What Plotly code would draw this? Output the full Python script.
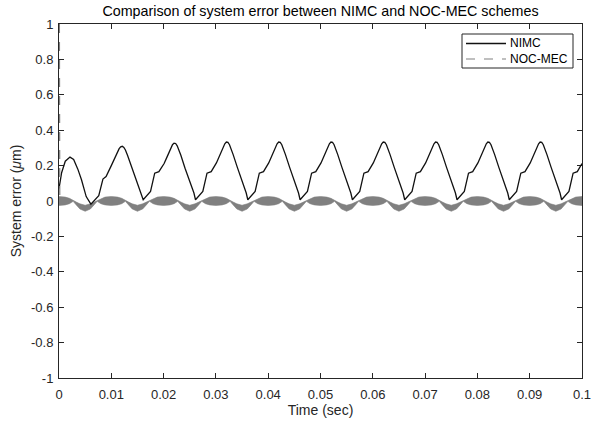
import plotly.graph_objects as go

# ---------------- data ----------------
# NIMC system error (µm) vs time (s)
nimc_t = [
    0.0000, 0.0005, 0.0012, 0.0021, 0.0028, 0.0036, 0.0043, 0.0052, 0.0061,
    0.0076, 0.0084, 0.0090, 0.0100, 0.0106, 0.0111, 0.0115, 0.0118, 0.0121, 0.0124, 0.0127, 0.0131, 0.0141, 0.0151, 0.0158, 0.0161,
    0.0175, 0.0183, 0.0191, 0.0201, 0.0206, 0.0211, 0.0214, 0.0217, 0.0220, 0.0223, 0.0226, 0.0229, 0.0233, 0.0241, 0.0251, 0.0258, 0.0261,
    0.0275, 0.0283, 0.0291, 0.0301, 0.0306, 0.0311, 0.0314, 0.0317, 0.0320, 0.0323, 0.0326, 0.0329, 0.0333, 0.0341, 0.0351, 0.0358, 0.0361,
    0.0375, 0.0383, 0.0391, 0.0401, 0.0406, 0.0411, 0.0414, 0.0417, 0.0420, 0.0423, 0.0426, 0.0429, 0.0433, 0.0441, 0.0451, 0.0458, 0.0461,
    0.0475, 0.0483, 0.0491, 0.0501, 0.0506, 0.0511, 0.0514, 0.0517, 0.0520, 0.0523, 0.0526, 0.0529, 0.0533, 0.0541, 0.0551, 0.0558, 0.0561,
    0.0575, 0.0583, 0.0591, 0.0601, 0.0606, 0.0611, 0.0614, 0.0617, 0.0620, 0.0623, 0.0626, 0.0629, 0.0633, 0.0641, 0.0651, 0.0658, 0.0661,
    0.0675, 0.0683, 0.0691, 0.0701, 0.0706, 0.0711, 0.0714, 0.0717, 0.0720, 0.0723, 0.0726, 0.0729, 0.0733, 0.0741, 0.0751, 0.0758, 0.0761,
    0.0775, 0.0783, 0.0791, 0.0801, 0.0806, 0.0811, 0.0814, 0.0817, 0.0820, 0.0823, 0.0826, 0.0829, 0.0833, 0.0841, 0.0851, 0.0858, 0.0861,
    0.0875, 0.0883, 0.0891, 0.0901, 0.0906, 0.0911, 0.0914, 0.0917, 0.0920, 0.0923, 0.0926, 0.0929, 0.0933, 0.0941, 0.0951, 0.0958, 0.0961,
    0.0975, 0.0983, 0.0991, 0.1000,
]
nimc_y = [
    0.070, 0.160, 0.225, 0.248, 0.235, 0.180, 0.120, 0.025, -0.018,
    0.030, 0.124, 0.138, 0.200, 0.240, 0.275, 0.296, 0.306, 0.309, 0.303, 0.288, 0.258, 0.178, 0.095, 0.040, 0.007,
    0.054, 0.157, 0.166, 0.212, 0.245, 0.278, 0.300, 0.318, 0.327, 0.325, 0.312, 0.290, 0.258, 0.185, 0.104, 0.045, 0.007,
    0.054, 0.157, 0.166, 0.215, 0.250, 0.283, 0.305, 0.323, 0.333, 0.331, 0.318, 0.296, 0.262, 0.190, 0.105, 0.045, 0.007,
    0.054, 0.157, 0.166, 0.215, 0.250, 0.283, 0.305, 0.323, 0.333, 0.331, 0.318, 0.296, 0.262, 0.190, 0.105, 0.045, 0.007,
    0.054, 0.157, 0.166, 0.215, 0.250, 0.283, 0.305, 0.323, 0.333, 0.331, 0.318, 0.296, 0.262, 0.190, 0.105, 0.045, 0.007,
    0.054, 0.157, 0.166, 0.215, 0.250, 0.283, 0.305, 0.323, 0.333, 0.331, 0.318, 0.296, 0.262, 0.190, 0.105, 0.045, 0.007,
    0.054, 0.157, 0.166, 0.215, 0.250, 0.283, 0.305, 0.323, 0.333, 0.331, 0.318, 0.296, 0.262, 0.190, 0.105, 0.045, 0.007,
    0.054, 0.157, 0.166, 0.215, 0.250, 0.283, 0.305, 0.323, 0.333, 0.331, 0.318, 0.296, 0.262, 0.190, 0.105, 0.045, 0.007,
    0.054, 0.157, 0.166, 0.215, 0.250, 0.283, 0.305, 0.323, 0.333, 0.331, 0.318, 0.296, 0.262, 0.190, 0.105, 0.045, 0.007,
    0.054, 0.157, 0.166, 0.212,
]

# NOC-MEC: initial transient, then a fast oscillation; its envelope per cycle
noc_spike_t = [0.00008, 0.00015]
noc_spike_y = [1.0, 0.02]
noc_cycle_centers = [0.00, 0.01, 0.02, 0.03, 0.04, 0.05, 0.06, 0.07, 0.08, 0.09, 0.10]
noc_env_tau = [-0.0027, -0.0020, -0.0012, 0.0000, 0.0012, 0.0020, 0.0027,
               0.0033, 0.0040, 0.0050, 0.0060, 0.0067]
noc_env_hi = [0.002, 0.015, 0.022, 0.025, 0.022, 0.015, 0.002,
              -0.006, -0.016, -0.024, -0.016, -0.006]
noc_env_lo = [-0.002, -0.015, -0.022, -0.025, -0.022, -0.015, -0.002,
              -0.022, -0.045, -0.058, -0.045, -0.022]

x_ticks = [0, 0.01, 0.02, 0.03, 0.04, 0.05, 0.06, 0.07, 0.08, 0.09, 0.1]
x_ticklabels = ["0", "0.01", "0.02", "0.03", "0.04", "0.05", "0.06", "0.07", "0.08", "0.09", "0.1"]
y_ticks = [-1, -0.8, -0.6, -0.4, -0.2, 0, 0.2, 0.4, 0.6, 0.8, 1]
y_ticklabels = ["-1", "-0.8", "-0.6", "-0.4", "-0.2", "0", "0.2", "0.4", "0.6", "0.8", "1"]
legend_names = ["NIMC", "NOC-MEC"]

# ---------------- build envelope band ----------------
pts = []
for c in noc_cycle_centers:
    for tau, hi, lo in zip(noc_env_tau, noc_env_hi, noc_env_lo):
        t = c + tau
        if 0.0 <= t <= 0.1:
            pts.append((t, hi, lo))
pts.sort()
band_t = [p[0] for p in pts]
band_hi = [p[1] for p in pts]
band_lo = [p[2] for p in pts]

GRAY = "#808080"
BLACK = "#111111"
AX = "#262626"
FONT = "Liberation Sans, Arial, sans-serif"

W, H = 596, 421
ML, MR, MT, MB = 59, 14, 24, 43
PW, PH = W - ML - MR, H - MT - MB


def px(xp):
    return (xp - ML) / PW


def py(yp):
    return (H - MB - yp) / PH


fig = go.Figure()
fig.add_trace(go.Scatter(
    x=band_t + band_t[::-1], y=band_hi + band_lo[::-1],
    fill="toself", fillcolor=GRAY, mode="lines",
    line=dict(color=GRAY, width=0.6), showlegend=False, hoverinfo="skip"))
fig.add_trace(go.Scatter(
    x=nimc_t, y=nimc_y, mode="lines", name=legend_names[0],
    line=dict(color=BLACK, width=1.3), showlegend=False))
fig.add_trace(go.Scatter(
    x=noc_spike_t, y=noc_spike_y, mode="lines", name=legend_names[1],
    line=dict(color=GRAY, width=1.2, dash="dash"), showlegend=False))

# legend box drawn by hand (MATLAB-style compact legend)
shapes = [
    dict(type="rect", xref="paper", yref="paper",
         x0=px(462), x1=px(573), y0=py(68), y1=py(34),
         line=dict(color=AX, width=1), fillcolor="white", layer="above"),
    dict(type="line", xref="paper", yref="paper",
         x0=px(466), x1=px(506), y0=py(43.5), y1=py(43.5),
         line=dict(color=BLACK, width=1.3), layer="above"),
    dict(type="line", xref="paper", yref="paper",
         x0=px(466), x1=px(506), y0=py(59), y1=py(59),
         line=dict(color=GRAY, width=1.2, dash="dash"), layer="above"),
]
annotations = [
    dict(text=legend_names[0], xref="paper", yref="paper", x=px(508), y=py(43.5),
         xanchor="left", yanchor="middle", showarrow=False,
         font=dict(family=FONT, size=12, color="#000000")),
    dict(text=legend_names[1], xref="paper", yref="paper", x=px(508), y=py(59),
         xanchor="left", yanchor="middle", showarrow=False,
         font=dict(family=FONT, size=12, color="#000000")),
]

axis_common = dict(
    showline=True, linecolor=AX, linewidth=1, mirror="ticks",
    ticks="inside", ticklen=5, tickwidth=1, tickcolor=AX,
    showgrid=False, zeroline=False, layer="below traces", automargin=False,
    tickfont=dict(family=FONT, size=13, color=AX),
)

fig.update_layout(
    width=W, height=H,
    margin=dict(l=ML, r=MR, t=MT, b=MB, autoexpand=False),
    paper_bgcolor="white", plot_bgcolor="white",
    font=dict(family=FONT, size=13, color=AX),
    title=dict(text="Comparison of system error between NIMC and NOC-MEC schemes",
               x=0.5, xref="paper", xanchor="center", y=0.985, yanchor="top",
               font=dict(family=FONT, size=14.3, color="#000000")),
    xaxis=dict(range=[0, 0.1], tickvals=x_ticks, ticktext=x_ticklabels,
               ticklabelstandoff=4,
               title=dict(text="Time (sec)", standoff=2,
                          font=dict(family=FONT, size=14, color=AX)),
               **axis_common),
    yaxis=dict(range=[-1, 1], tickvals=y_ticks, ticktext=y_ticklabels,
               ticklabelstandoff=2,
               title=dict(text="System error (<i>μ</i>m)", standoff=6,
                          font=dict(family=FONT, size=14, color=AX)),
               **axis_common),
    shapes=shapes, annotations=annotations,
    showlegend=False,
)

fig.write_html("out.html")
